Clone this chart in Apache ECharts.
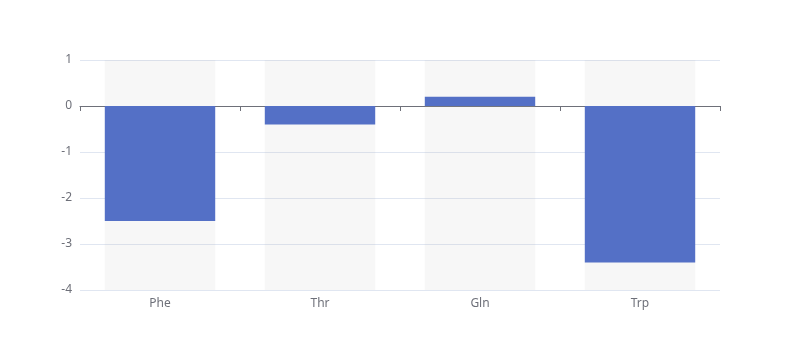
<!DOCTYPE html>
<html>
<head>
<meta charset="utf-8">
<script src="https://cdn.jsdelivr.net/npm/echarts@6/dist/echarts.min.js"></script>
<style>html,body{margin:0;padding:0;background:#fff}#c{width:800px;height:360px}</style>
</head>
<body>
<div id="c"></div>
<script>
const categories = ['Phe', 'Thr', 'Gln', 'Trp'];
const values = [-2.5, -0.4, 0.2, -3.4];
const yMin = -4;
const yMax = 1;

const chart = echarts.init(document.getElementById('c'), null, {renderer: 'canvas'});
const font = "'Noto Sans', sans-serif";
chart.setOption({
  animation: false,
  textStyle: {fontFamily: font},
  grid: {left: 80, right: 80, top: 60, bottom: 70},
  xAxis: {
    type: 'category',
    data: categories,
    axisLine: {show: true, lineStyle: {color: '#6E7079', width: 1}},
    axisTick: {show: true, length: 5, lineStyle: {color: '#6E7079'}},
    axisLabel: {color: '#6E7079', fontSize: 12, margin: 8, fontFamily: font}
  },
  yAxis: {
    type: 'value',
    min: yMin,
    max: yMax,
    interval: 1,
    axisLine: {show: false},
    axisTick: {show: false},
    axisLabel: {color: '#6E7079', fontSize: 12, margin: 8, fontFamily: font},
    splitLine: {show: true, lineStyle: {color: '#E0E6F1', width: 1}}
  },
  series: [{
    type: 'bar',
    data: values,
    barWidth: '69%',
    itemStyle: {color: '#5470c6'},
    showBackground: true,
    backgroundStyle: {color: 'rgba(180,180,180,0.1)'}
  }]
});
</script>
</body>
</html>
